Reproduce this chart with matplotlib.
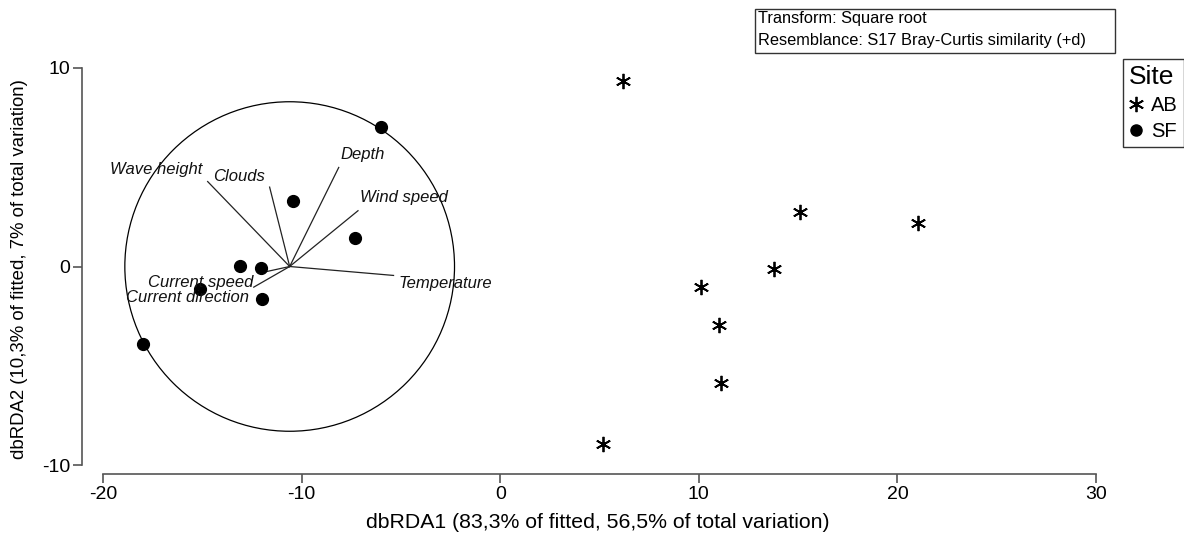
import matplotlib
matplotlib.use('Agg')
import matplotlib.pyplot as plt
from matplotlib.patches import Circle, Rectangle
from matplotlib.lines import Line2D

plt.rcParams['font.family'] = ['Liberation Sans', 'DejaVu Sans']
plt.rcParams['axes.unicode_minus'] = False

# Site AB samples (asterisks)
ab_x = [6.2, 15.1, 21.05, 13.8, 10.1, 11.0, 11.1, 5.2]
ab_y = [9.35, 2.75, 2.18, -0.14, -1.03, -2.96, -5.85, -8.96]

# Site SF samples (dots)
sf_x = [-6.0, -10.42, -7.3, -13.09, -12.03, -15.1, -11.98, -17.97]
sf_y = [7.03, 3.3, 1.44, 0.03, -0.08, -1.13, -1.64, -3.9]

# Vector overlay (predictor correlations), drawn from the circle centre
vec_names = ['Wave height', 'Clouds', 'Depth', 'Wind speed', 'Temperature',
             'Current speed', 'Current direction']
vec_dx = [-4.13, -1.01, 2.47, 3.44, 5.23, -1.14, -1.81]
vec_dy = [4.28, 4.0, 4.99, 2.81, -0.45, -0.25, -1.04]
circle_x = -10.6
circle_y = 0.0
circle_r = 8.3

x_ticks = [-20, -10, 0, 10, 20, 30]
y_ticks = [-10, 0, 10]

# label placement (pixel offsets from vector end) - layout only
lbl_off = [(-5, 12, 'right'), (-5, 11, 'right'), (2, 13, 'left'), (2, 13, 'left'),
           (5, -8, 'left'), (-14, -11, 'right'), (-5, -10, 'right')]

W, H = 1184, 535
fig = plt.figure(figsize=(W / 100, H / 100), dpi=100)
ax = fig.add_axes([82 / W, (H - 474) / H, (1096 - 82) / W, (474 - 68) / H])
ax.set_xlim(-21.057, 30)
ax.set_ylim(-10.453, 10)

spine_col = '#555555'
for s in ['top', 'right']:
    ax.spines[s].set_visible(False)
ax.spines['left'].set_bounds(-10, 10)
ax.spines['bottom'].set_bounds(-20, 30)
for s in ['left', 'bottom']:
    ax.spines[s].set_color(spine_col)
    ax.spines[s].set_linewidth(1.2)
ax.set_xticks(x_ticks)
ax.set_yticks(y_ticks)
ax.tick_params(direction='out', length=6.5, width=1.2, color=spine_col, labelsize=14, pad=2)

# circle and vectors
ax.add_patch(Circle((circle_x, circle_y), circle_r, fill=False, edgecolor='black', linewidth=0.9))
for i in range(len(vec_names)):
    ex = circle_x + vec_dx[i]
    ey = circle_y + vec_dy[i]
    ax.plot([circle_x, ex], [circle_y, ey], color='#222222', linewidth=0.9)
    ox, oy, ha = lbl_off[i]
    ax.annotate(vec_names[i], (ex, ey), xytext=(ox, oy), textcoords='offset pixels',
                ha=ha, va='center', fontsize=12, style='italic', color='#111111')

# samples
ast = (6, 2, 0)
ax.plot(ab_x, ab_y, linestyle='none', marker=ast, markersize=11, markeredgewidth=1.3,
        color='black', clip_on=False)
ax.plot(sf_x, sf_y, linestyle='none', marker='o', markersize=8.5, color='black', clip_on=False)

# axis titles
fig.text(598 / W, 1 - 522 / H, 'dbRDA1 (83,3% of fitted, 56,5% of total variation)',
         ha='center', va='center', fontsize=15.3)
fig.text(20 / W, 1 - 269 / H, 'dbRDA2 (10,3% of fitted, 7% of total variation)',
         ha='center', va='center', fontsize=13.4, rotation=90)

# info box
fig.patches.append(Rectangle((755 / W, 1 - 53 / H), (1115 - 755) / W, 44 / H,
                             transform=fig.transFigure, fill=False, edgecolor='#333333',
                             linewidth=1))
fig.text(758 / W, 1 - 18 / H, 'Transform: Square root', ha='left', va='center', fontsize=11.8)
fig.text(758 / W, 1 - 40 / H, 'Resemblance: S17 Bray-Curtis similarity (+d)',
         ha='left', va='center', fontsize=11.8)

# legend
handles = [Line2D([], [], linestyle='none', marker=ast, markersize=11, markeredgewidth=1.3,
                  color='black', label='AB'),
           Line2D([], [], linestyle='none', marker='o', markersize=8, color='black', label='SF')]
leg = fig.legend(handles=handles, title='Site', loc='upper left',
                 bbox_to_anchor=(1123 / W, 1 - 59 / H), fontsize=14.5, title_fontsize=19,
                 frameon=True, fancybox=False, edgecolor='black', handlelength=0.7,
                 handletextpad=0.4, borderpad=0.3, labelspacing=0.35, borderaxespad=0)
leg.get_frame().set_linewidth(1)
leg._legend_box.align = 'left'

fig.savefig('out.png', dpi=100)
